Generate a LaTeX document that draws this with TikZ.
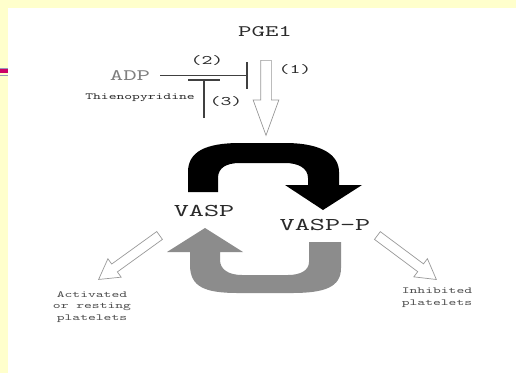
\documentclass[tikz,border=0pt]{standalone}
\usepackage{fontspec}
\usetikzlibrary{calc,shapes.arrows,arrows.meta}
\newfontfamily\vaspmono[FakeStretch=1.6]{lmmono10-regular.otf}
\newcommand{\vaspfont}[2]{\vaspmono\fontsize{#1}{#2}\selectfont}
\definecolor{slideyellow}{HTML}{FFFFCC}
\definecolor{barmagenta}{HTML}{CC0066}
\definecolor{barblue}{HTML}{9999BB}
\definecolor{inkgray}{HTML}{2A2A2A}
\tikzstyle{bigtext}=[font=\vaspfont{16}{18},text=inkgray,inner sep=0pt]
\tikzstyle{vasptext}=[font=\vaspfont{18}{20},text=inkgray,inner sep=0pt]
\tikzstyle{midtext}=[font=\vaspfont{13}{15},text=inkgray,inner sep=0pt]
\tikzstyle{smalltext}=[font=\vaspfont{9.3}{11.5},text=black!70,inner sep=0pt,align=center]
\tikzstyle{inhibit}=[draw=black!75,line width=1.3pt]
\tikzstyle{hollow}=[single arrow,draw=black!40,fill=white,line width=0.7pt,inner xsep=0pt,inner ysep=5pt,single arrow head extend=7.5pt]
\newcommand{\hollowarrow}[3]{%
  \path let \p1=($(#2)-(#1)$), \n1={atan2(\y1,\x1)}, \n2={veclen(\x1,\y1)} in
    node[hollow,#3,rotate=\n1,minimum height=\n2] at ($(#1)!0.5!(#2)$) {};}

\begin{document}
\begin{tikzpicture}[x=1pt,y=-1pt]

   % slide background
   \fill[slideyellow] (0,0) rectangle (516,373);
   \fill[white] (8,8) rectangle (516,373);
   \fill[barblue] (0,67.5) rectangle (8,69);
   \fill[barmagenta] (0,69) rectangle (8,72.5);
   \fill[barblue] (0,74.5) rectangle (8,76);

   \node[bigtext] (pge) at (265,31.5) {PGE1};
   \node[bigtext,text=black!50] (adp) at (130,75.5) {ADP};
   \node[smalltext,text=inkgray] (thieno) at (140,98) {Thienopyridine};

   \foreach \pos/\name/\label in {{(207,61)/n2/(2)}, {(295,70)/n1/(1)}, {(226,102)/n3/(3)}}
       \node[midtext] (\name) at \pos {\label};

   \coordinate (bar2) at (248,74.5);
   \coordinate (t3a) at (204,118);
   \coordinate (t3b) at (204,79);
   \draw[inhibit,-{Bar[width=27pt,line width=1.8pt]}] ([xshift=10pt]adp.east) -- (adp.east -| bar2);
   \draw[inhibit,-{Bar[width=32pt,line width=1.8pt]}] (t3a) -- (t3b);

   \coordinate (a1s) at (266,53);
   \coordinate (a1e) at (266,128);
   \hollowarrow{a1s}{a1e}{single arrow tip angle=40}

   % phosphorylation cycle
   \fill[black] (188,192) -- (188,172) .. controls (188,152) and (205,143) .. (240,143)
      -- (285,143) .. controls (322,143) and (339,155) .. (339,172) -- (339,185)
      -- (362,185) -- (323,210) -- (285,185) -- (308,185) -- (308,178)
      .. controls (308,168) and (298,163) .. (285,163) -- (240,163)
      .. controls (226,163) and (218,168) .. (218,178) -- (218,192) -- cycle;
   \fill[black!45] (167,252) -- (205,228) -- (243,252) -- (220,252) -- (220,260)
      .. controls (220,269) and (228,275) .. (242,275) -- (288,275)
      .. controls (301,275) and (309,270) .. (309,262) -- (309,242) -- (341,242)
      -- (341,268) .. controls (341,287) and (325,293) .. (292,293) -- (238,293)
      .. controls (205,293) and (190,287) .. (190,265) -- (190,252) -- cycle;

   \node[vasptext] (vasp) at (204,211) {VASP};
   \node[vasptext] (vaspp) at (325,225) {VASP-P};

   \node[smalltext] (act) at (92,307) {Activated\\or resting\\platelets};
   \node[smalltext] (inh) at (437,297.5) {Inhibited\\platelets};

   \coordinate (a2s) at (163,233);
   \coordinate (a2e) at (102,277);
   \coordinate (a3s) at (374,233);
   \coordinate (a3e) at (433,277);
   \hollowarrow{a2s}{a2e}{single arrow tip angle=60,inner ysep=4.5pt,single arrow head extend=6.5pt}
   \hollowarrow{a3s}{a3e}{single arrow tip angle=60,inner ysep=4.5pt,single arrow head extend=6.5pt}

\end{tikzpicture}
\end{document}
